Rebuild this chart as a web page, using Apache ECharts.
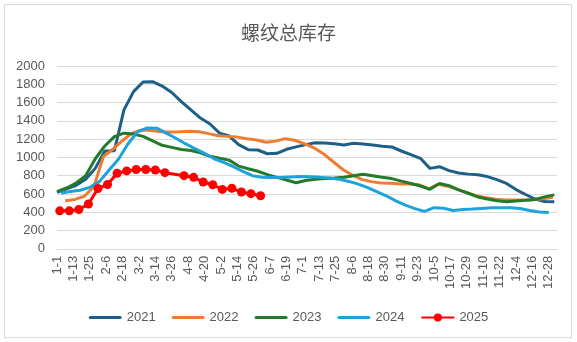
<!DOCTYPE html>
<html>
<head>
<meta charset="utf-8">
<script src="https://cdn.jsdelivr.net/npm/echarts@6/dist/echarts.min.js"></script>
<style>
html,body{margin:0;padding:0;background:#fff;}
#c{width:577px;height:342px;}
</style>
</head>
<body>
<div id="c"></div>
<script>
// x-axis tick labels (one every 12 days)
const xLabels = ['1-1','1-13','1-25','2-6','2-18','3-2','3-14','3-26','4-8','4-20','5-2','5-14','5-26','6-7','6-19','7-1','7-13','7-25','8-6','8-18','8-30','9-11','9-23','10-5','10-17','10-29','11-10','11-22','12-4','12-16','12-28'];

const seriesNames = ['2021','2022','2023','2024','2025'];

// day-of-year of the first weekly observation of each year
const start2021 = 0, start2022 = 6, start2023 = 0, start2024 = 3, start2025 = 2;

// weekly values
const v2021 = [618,655,695,760,880,1070,1073,1520,1720,1825,1828,1780,1710,1610,1520,1430,1365,1265,1234,1140,1085,1081,1040,1045,1089,1115,1140,1160,1157,1150,1136,1154,1147,1135,1122,1115,1070,1030,990,880,898,855,830,817,810,790,757,715,648,594,545,518,515];
const v2022 = [526,540,575,680,1010,1090,1185,1265,1300,1295,1280,1278,1280,1287,1280,1260,1237,1230,1222,1205,1190,1165,1178,1205,1188,1150,1105,1040,955,870,808,760,735,720,716,710,709,700,655,705,685,650,614,580,560,543,535,534,534,538,548,565];
const v2023 = [625,665,720,800,985,1125,1228,1265,1255,1230,1180,1132,1110,1087,1076,1050,1012,990,970,905,876,848,812,782,753,722,748,762,770,775,782,800,815,800,782,768,740,715,687,652,714,690,645,608,567,544,526,515,522,530,540,568,590];
const v2024 = [607,628,640,672,735,860,980,1150,1280,1322,1320,1265,1210,1150,1095,1045,985,945,900,848,800,782,780,780,785,790,789,784,776,762,740,710,672,626,580,525,478,440,410,450,443,420,430,435,442,448,450,450,440,420,402,396];
const v2025 = [415,415,430,490,660,703,826,852,867,867,862,833,null,800,782,731,701,650,662,621,603,581];

const colors = ['#1d5f87','#ed7d31','#237a2b','#1ea2dc','#ff0000'];

function weekly(start, vals){
  return vals.map((v,i)=>[start+7*i, v]).filter(p=>p[1]!==null);
}

const allData = [
  weekly(start2021, v2021),
  weekly(start2022, v2022),
  weekly(start2023, v2023),
  weekly(start2024, v2024),
  weekly(start2025, v2025)
];

const chart = echarts.init(document.getElementById('c'), null, {renderer:'canvas'});
const txt = '#595959';
const series = seriesNames.map((name, k) => ({
  name: name,
  type: 'line',
  data: allData[k],
  smooth: false,
  symbol: k === 4 ? 'circle' : 'none',
  showSymbol: k === 4,
  symbolSize: 9,
  lineStyle: {width: 3, color: colors[k]},
  itemStyle: {color: colors[k]},
  z: k === 4 ? 10 : 2 + k
}));

const lineIcon = 'path://M1.5,0 L31.5,0 A1.5,1.5 0 0 1 31.5,3 L1.5,3 A1.5,1.5 0 0 1 1.5,0 Z';
const legendData = seriesNames.map((n, k) => k === 4 ? {name: n} : {name: n, icon: lineIcon});

chart.setOption({
  animation: false,
  backgroundColor: '#fff',
  graphic: [{
    type: 'rect', silent: true,
    shape: {x: 4.5, y: 4.5, width: 567, height: 333},
    style: {fill: 'none', stroke: '#d9d9d9', lineWidth: 1}
  }],
  title: {
    text: '螺纹总库存',
    left: 'center',
    top: 18,
    textStyle: {fontFamily: 'Noto Sans CJK SC', fontSize: 19, fontWeight: 'normal', color: txt}
  },
  legend: {
    data: legendData,
    left: 'center',
    top: 306,
    itemWidth: 33,
    itemHeight: 10,
    itemGap: 16,
    textStyle: {fontFamily: 'Liberation Sans', fontSize: 13, color: txt}
  },
  grid: {left: 57, top: 66, width: 500, height: 182.8, containLabel: false},
  xAxis: {
    type: 'value',
    min: 0,
    max: 366,
    interval: 12,
    axisLine: {show: true, lineStyle: {color: '#d9d9d9', width: 1}},
    axisTick: {show: false},
    splitLine: {show: false},
    axisLabel: {
      rotate: 90,
      margin: 7,
      fontFamily: 'Liberation Sans',
      fontSize: 13,
      color: txt,
      showMaxLabel: false,
      formatter: function(v){ const i = Math.round(v/12); return (v % 12 === 0 && xLabels[i]) ? xLabels[i] : ''; }
    }
  },
  yAxis: {
    type: 'value',
    min: 0,
    max: 2000,
    interval: 200,
    axisLine: {show: false},
    axisTick: {show: false},
    splitLine: {lineStyle: {color: '#d9d9d9', width: 1}},
    axisLabel: {fontFamily: 'Liberation Sans', fontSize: 13, color: txt, margin: 12, formatter: function(v){ return String(v); }}
  },
  series: series
});
</script>
</body>
</html>
